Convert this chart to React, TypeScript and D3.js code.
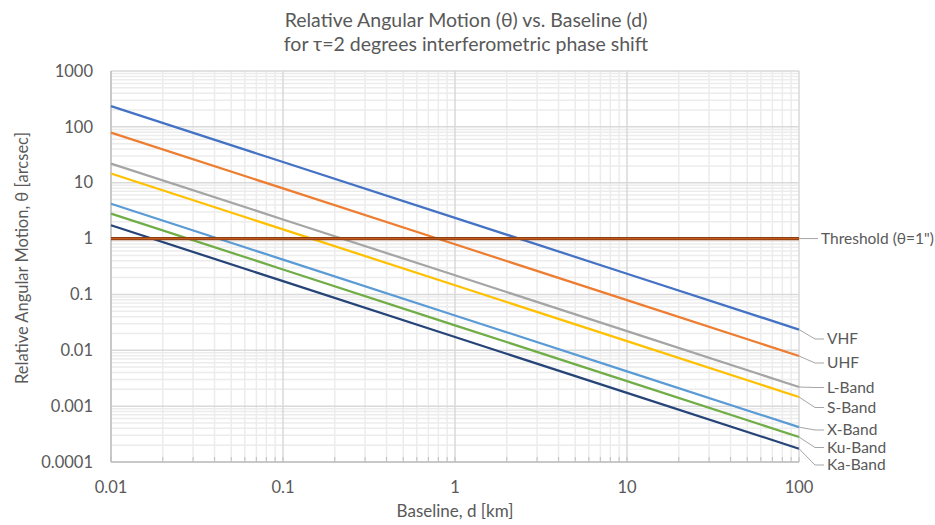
import React from "react";
import * as d3 from "d3";

const baselines = [0.01, 0.1, 1, 10, 100];
const seriesNames = ["VHF", "UHF", "L-Band", "S-Band", "X-Band", "Ku-Band", "Ka-Band"];
const vhf = [235, 23.5, 2.35, 0.235, 0.0235];
const uhf = [79, 7.9, 0.79, 0.079, 0.0079];
const lBand = [22, 2.2, 0.22, 0.022, 0.0022];
const sBand = [14.6, 1.46, 0.146, 0.0146, 0.00146];
const xBand = [4.2, 0.42, 0.042, 0.0042, 0.00042];
const kuBand = [2.8, 0.28, 0.028, 0.0028, 0.00028];
const kaBand = [1.73, 0.173, 0.0173, 0.00173, 0.000173];
const thresholdValues = [1, 1, 1, 1, 1];
const xTicks = [0.01, 0.1, 1, 10, 100];
const xTickLabels = ["0.01", "0.1", "1", "10", "100"];
const yTicks = [0.0001, 0.001, 0.01, 0.1, 1, 10, 100, 1000];
const yTickLabels = ["0.0001", "0.001", "0.01", "0.1", "1", "10", "100", "1000"];

const seriesValues = [vhf, uhf, lBand, sBand, xBand, kuBand, kaBand];
const colors = ["#4472C4", "#ED7D31", "#A5A5A5", "#FFC000", "#5B9BD5", "#70AD47", "#264478"];
const labelY = [339, 363, 387.5, 407.5, 430, 447.5, 465];

const W = 935, H = 525;
const left = 111, right = 799, top = 71, bottom = 462;
const FONT = "Lato, 'Open Sans', sans-serif";
const TXT = "#595959";

export default function App() {
  const x = d3.scaleLog().domain([0.01, 100]).range([left, right]);
  const y = d3.scaleLog().domain([0.0001, 1000]).range([bottom, top]);
  const line = d3.line<number>().x((_, i) => x(baselines[i])).y((v) => y(v));

  const minorX: number[] = [];
  for (let e = -2; e < 2; e++) for (let m = 2; m <= 9; m++) minorX.push(m * Math.pow(10, e));
  const minorY: number[] = [];
  for (let e = -4; e < 3; e++) for (let m = 2; m <= 9; m++) minorY.push(m * Math.pow(10, e));

  return (
    <svg width={W} height={H} style={{ position: "absolute", left: 0, top: 0, background: "#fff" }}>
      <rect x={0} y={0} width={W} height={H} fill="#fff" />
      {minorX.map((v, i) => (
        <line key={"mx" + i} x1={x(v)} x2={x(v)} y1={top} y2={bottom} stroke="#ececec" strokeWidth={1.5} />
      ))}
      {minorY.map((v, i) => (
        <line key={"my" + i} x1={left} x2={right} y1={y(v)} y2={y(v)} stroke="#ececec" strokeWidth={1.5} />
      ))}
      {xTicks.map((v, i) => (
        <line key={"Mx" + i} x1={x(v)} x2={x(v)} y1={top} y2={bottom} stroke="#d9d9d9" strokeWidth={1.5} />
      ))}
      {yTicks.map((v, i) => (
        <line key={"My" + i} x1={left} x2={right} y1={y(v)} y2={y(v)} stroke="#d9d9d9" strokeWidth={1.5} />
      ))}
      <line x1={left} x2={left} y1={top} y2={bottom} stroke="#bfbfbf" strokeWidth={1.5} />
      <line x1={left} x2={right} y1={bottom} y2={bottom} stroke="#bfbfbf" strokeWidth={1.5} />
      {minorX.concat(xTicks).map((v, i) => (
        <line key={"tx" + i} x1={x(v)} x2={x(v)} y1={bottom - 5} y2={bottom} stroke="#bfbfbf" strokeWidth={1} />
      ))}
      {seriesValues.map((vals, i) => (
        <path key={"s" + i} d={line(vals) || ""} fill="none" stroke={colors[i]} strokeWidth={2.25} />
      ))}
      <path d={line(thresholdValues) || ""} fill="none" stroke="#8B3E10" strokeWidth={3.2} />
      <path d={line(thresholdValues) || ""} fill="none" stroke="#C45A1E" strokeWidth={1.2} />
      <line x1={x(100)} x2={818} y1={y(1)} y2={y(1)} stroke="#a6a6a6" strokeWidth={1} />
      <text x={821} y={y(1)} dy="0.35em" fontFamily={FONT} fontSize={15.5} fill={TXT}>
        Threshold (θ=1")
      </text>
      {seriesValues.map((vals, i) => {
        const ex = x(baselines[baselines.length - 1]);
        const ey = y(vals[vals.length - 1]);
        const ly = labelY[i];
        return (
          <g key={"lab" + i}>
            <polyline
              points={`${ex},${ey} ${ex + 16},${ly} ${ex + 25},${ly}`}
              fill="none"
              stroke="#a6a6a6"
              strokeWidth={1}
            />
            <text x={ex + 28} y={ly} dy="0.35em" fontFamily={FONT} fontSize={15.5} fill={TXT}>
              {seriesNames[i]}
            </text>
          </g>
        );
      })}
      {yTicks.map((v, i) => (
        <text key={"yl" + i} x={93} y={y(v)} dy="0.35em" textAnchor="end" fontFamily={FONT} fontSize={16.5} fill={TXT}>
          {yTickLabels[i]}
        </text>
      ))}
      {xTicks.map((v, i) => (
        <text key={"xl" + i} x={x(v)} y={487} dy="0.35em" textAnchor="middle" fontFamily={FONT} fontSize={16.5} fill={TXT}>
          {xTickLabels[i]}
        </text>
      ))}
      <text x={466} y={20} dy="0.35em" textAnchor="middle" fontFamily={FONT} fontSize={19.5} fill={TXT}>
        Relative Angular Motion (θ) vs. Baseline (d)
      </text>
      <text x={466} y={44} dy="0.35em" textAnchor="middle" fontFamily={FONT} fontSize={19.5} fill={TXT}>
        for τ=2 degrees interferometric phase shift
      </text>
      <text x={455} y={511} dy="0.35em" textAnchor="middle" fontFamily={FONT} fontSize={17} fill={TXT}>
        Baseline, d [km]
      </text>
      <text
        transform={`translate(22, 258) rotate(-90)`}
        dy="0.35em"
        textAnchor="middle"
        fontFamily={FONT}
        fontSize={16.5}
        fill={TXT}
      >
        Relative Angular Motion, θ [arcsec]
      </text>
    </svg>
  );
}
